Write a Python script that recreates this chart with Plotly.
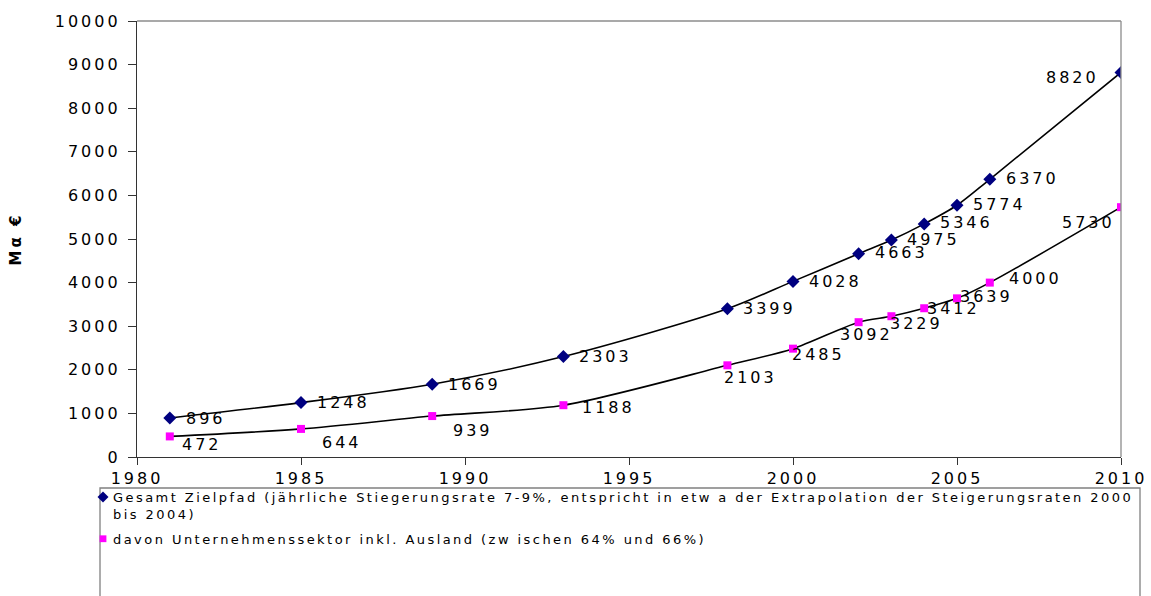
import plotly.graph_objects as go

# ---- data ----
years = [1981, 1985, 1989, 1993, 1998, 2000, 2002, 2003, 2004, 2005, 2006, 2010]
gesamt = [896, 1248, 1669, 2303, 3399, 4028, 4663, 4975, 5346, 5774, 6370, 8820]
unternehmen = [472, 644, 939, 1188, 2103, 2485, 3092, 3229, 3412, 3639, 4000, 5730]
x_ticks = [1980, 1985, 1990, 1995, 2000, 2005, 2010]
y_ticks = [0, 1000, 2000, 3000, 4000, 5000, 6000, 7000, 8000, 9000, 10000]
name_gesamt = ("Gesamt Zielpfad (jährliche Stiegerungsrate 7-9%, entspricht in etw a der "
               "Extrapolation der Steigerungsraten 2000<br>bis 2004)")
name_unt = "davon Unternehmenssektor inkl. Ausland (zw ischen 64% und 66%)"
y_title = "Mα €"

# ---- label placement (pixel offsets: anchor side, dx, dy) ----
lab_g = [("l", 16, -1), ("l", 16, 0), ("l", 16, 0), ("l", 16, 0), ("l", 16, 0), ("l", 16, 0),
         ("l", 16, 1), ("l", 16, 1), ("l", 16, 1), ("l", 16, 1), ("l", 16, 1), ("r", -22, -5)]
lab_u = [("l", 12, -8), ("l", 21, -14), ("l", 21, -14), ("l", 19, -2), ("l", -3, -12),
         ("l", -1, -6), ("l", -19, -12), ("l", -1, -7), ("l", 3, 0), ("l", 3, 2),
         ("l", 19, 4), ("r", -6, -15)]

FONT = "DejaVu Sans"
W, H = 1151, 596
L, R, T, B = 137, 1121, 21, 457


def px(xp):
    return (xp - L) / (R - L)


def py(yp):
    return (B - yp) / (B - T)


fig = go.Figure()
for ys, mcol, sym, msize, nm, grp in [
    (gesamt, "#000080", "diamond", 10, name_gesamt, "g1"),
    (unternehmen, "#FF00FF", "square", 8, name_unt, "g2"),
]:
    fig.add_trace(go.Scatter(x=years, y=ys, mode="lines",
                             line=dict(color="black", width=1.6, shape="spline", smoothing=0.8),
                             showlegend=False, hoverinfo="skip"))
    fig.add_trace(go.Scatter(x=years, y=ys, mode="markers", name=nm, legendgroup=grp,
                             marker=dict(color=mcol, symbol=sym, size=msize,
                                         line=dict(width=0)),
                             hoverinfo="skip"))

annotations = []
for ys, labs in [(gesamt, lab_g), (unternehmen, lab_u)]:
    for xv, yv, (side, dx, dy) in zip(years, ys, labs):
        annotations.append(dict(
            x=xv, y=yv, xref="x", yref="y", text=str(yv), showarrow=False,
            xanchor="left" if side == "l" else "right",
            align="left" if side == "l" else "right",
            yanchor="middle", xshift=dx, yshift=dy, borderpad=0, borderwidth=0,
            font=dict(family=FONT, size=16, color="black")))

fig.update_layout(
    width=W, height=H,
    margin=dict(l=L, r=W - R, t=T, b=H - B, autoexpand=False),
    paper_bgcolor="white", plot_bgcolor="white",
    annotations=annotations,
    showlegend=True,
    legend=dict(x=px(73), y=py(482), xanchor="left", yanchor="top", valign="top",
                font=dict(family=FONT, size=13, color="black"),
                bgcolor="rgba(0,0,0,0)", borderwidth=0, tracegroupgap=5),
    shapes=[
        dict(type="line", xref="paper", yref="paper", x0=0, x1=1, y0=1, y1=1,
             line=dict(color="#8c8c8c", width=1.3)),
        dict(type="line", xref="paper", yref="paper", x0=1, x1=1, y0=0, y1=1,
             line=dict(color="#8c8c8c", width=1.3)),
        dict(type="rect", xref="paper", yref="paper", x0=px(100), x1=px(1140),
             y0=py(640), y1=py(488), line=dict(color="#808080", width=1.3),
             fillcolor="rgba(0,0,0,0)"),
    ],
    xaxis=dict(range=[1980, 2010], tickvals=x_ticks, ticktext=[str(v) for v in x_ticks],
               showgrid=False, zeroline=False, showline=True, linecolor="#333333",
               linewidth=1.3, ticks="outside", ticklen=7, tickcolor="#333333",
               tickfont=dict(family=FONT, size=16, color="black")),
    yaxis=dict(range=[0, 10000], tickvals=y_ticks, ticktext=[str(v) for v in y_ticks],
               showgrid=False, zeroline=False, showline=True, linecolor="#333333",
               linewidth=1.3, ticks="outside", ticklen=8, tickcolor="#333333",
               ticklabelstandoff=4,
               tickfont=dict(family=FONT, size=16, color="black"),
               title=dict(text=y_title, standoff=44,
                          font=dict(family=FONT, size=15, color="black", weight="bold"))),
)

css = ("html,body{margin:0;padding:0;overflow:hidden;}"
       ".js-plotly-plot text{letter-spacing:3px;}"
       ".js-plotly-plot .legendtext{letter-spacing:2.45px;}"
       ".js-plotly-plot .legend .scrollbox{clip-path:none !important;}"
       ".js-plotly-plot .legendpoints{transform:translateX(10px) scale(0.85);"
       "transform-box:fill-box;transform-origin:center;}")
post = ("var s=document.createElement('style');s.textContent='" + css +
        "';document.head.appendChild(s);")
fig.write_html("out.html", post_script=post, config={"displayModeBar": False})
